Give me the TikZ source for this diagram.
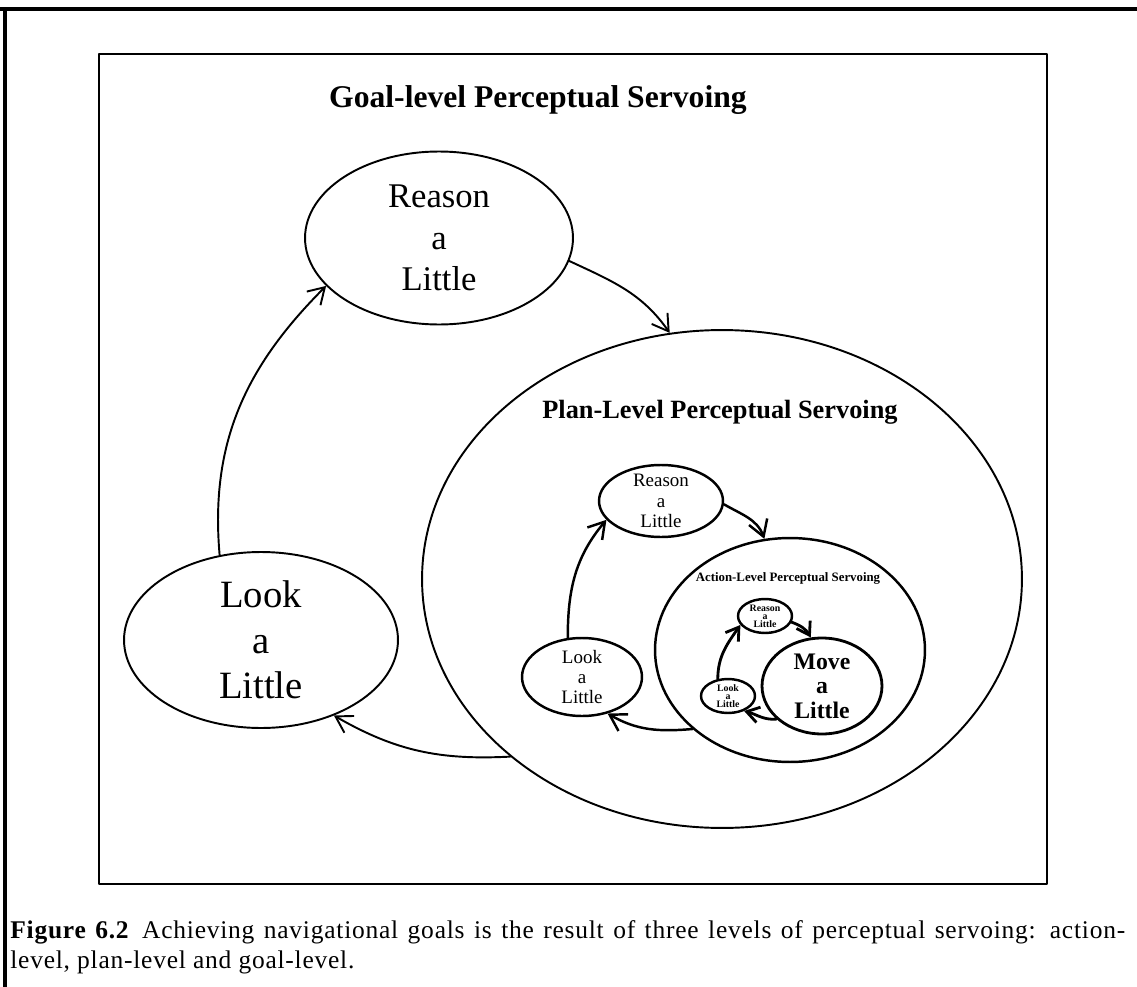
\documentclass[tikz,border=0pt]{standalone}
\usepackage{fontspec}
\setmainfont{Liberation Serif}
\usetikzlibrary{arrows.meta,shapes.geometric}

\begin{document}
\begin{tikzpicture}[line cap=round,line join=round,x=0.02cm,y=0.02cm,
  >={Straight Barb[length=9pt,width=11pt]},
  bubble/.style 2 args={ellipse,draw,inner sep=-3mm,align=center,line width=1.1pt,minimum width=#1,minimum height=#2},
  goalflow/.style={->,line width=1.1pt},
  planflow/.style={->,line width=1.4pt},
  actflow/.style={-{Straight Barb[length=7pt,width=9pt]},line width=1.6pt}]
\useasboundingbox (0,0) rectangle (1137,-987);
% page frame
\draw[line width=2.3pt] (0,-9) -- (1137,-9);
\draw[line width=1.8pt] (5,-9) -- (5,-987);
\draw[line width=1.3pt] (99,-54) rectangle (1047,-884);

% goal level
\node[anchor=west,font=\bfseries\fontsize{18}{21}\selectfont] (goalTitle) at (323,-100) {Goal-level Perceptual Servoing};
\node[bubble={5.36cm}{3.46cm},font=\fontsize{19.7}{23.8}\selectfont] (reasonG) at (439,-238) {Reason\\a\\Little};
\node[bubble={5.48cm}{3.52cm},font=\fontsize{22}{26}\selectfont] (lookG) at (261,-640) {Look\\a\\Little};
\node[bubble={12cm}{9.96cm}] (planE) at (722,-579) {};

% plan level
\node[font=\bfseries\fontsize{15}{18}\selectfont] (planTitle) at (720,-412) {Plan-Level Perceptual Servoing};
\node[bubble={2.48cm}{1.44cm},line width=1.4pt,font=\fontsize{10.8}{11.5}\selectfont] (reasonP) at (661,-501) {Reason\\a\\Little};
\node[bubble={2.4cm}{1.56cm},line width=1.4pt,font=\fontsize{10.8}{11.5}\selectfont] (lookP) at (582,-677) {Look\\a\\Little};
\node[bubble={5.4cm}{4.48cm},line width=1.4pt] (actionE) at (790,-650) {};

% action level
\node[font=\bfseries\fontsize{7.3}{9}\selectfont] (actionTitle) at (788,-578) {Action-Level Perceptual Servoing};
\node[bubble={2.4cm}{1.92cm},line width=1.6pt,font=\bfseries\fontsize{13.5}{14}\selectfont] (moveA) at (822,-686) {Move\\a\\Little};
\node[bubble={1.08cm}{0.68cm},line width=1.4pt,inner sep=-1mm,font=\bfseries\fontsize{5.6}{4.6}\selectfont] (reasonA) at (765,-616) {Reason\\a\\Little};
\node[bubble={1.08cm}{0.68cm},line width=1.4pt,inner sep=-1mm,font=\bfseries\fontsize{5.6}{4.6}\selectfont] (lookA) at (728,-696) {Look\\a\\Little};

\draw[goalflow] (lookG.116) to[out=95,in=225] (reasonG.203);
\draw[goalflow] (reasonG.350) to[out=-25,in=125] (planE.102);
\draw[goalflow] (planE.220) to[out=183,in=-30] (lookG.-46);

\draw[planflow] (lookP.110) to[out=90,in=230] (reasonP.199);
\draw[planflow] (reasonP.-3) to[out=-30,in=110] (actionE.103);
\draw[planflow] (actionE.219) to[out=185,in=-30] (lookP.-55);

\draw[actflow] (lookA.121) to[out=90,in=235] (reasonA.200);
\draw[actflow] (reasonA.-13) to[out=-20,in=120] (moveA.103);
\draw[actflow] (moveA.216) to[out=185,in=-15] (lookA.-43);

\node[anchor=north west,inner sep=0pt,font=\addfontfeatures{LetterSpace=3}\fontsize{14.5}{17}\selectfont] (caption) at (10,-920)
  {\parbox{22.3cm}{\textbf{Figure 6.2}\enspace Achieving navigational goals is the result of three levels of perceptual servoing: action-\linebreak level, plan-level and goal-level.}};
\end{tikzpicture}
\end{document}
